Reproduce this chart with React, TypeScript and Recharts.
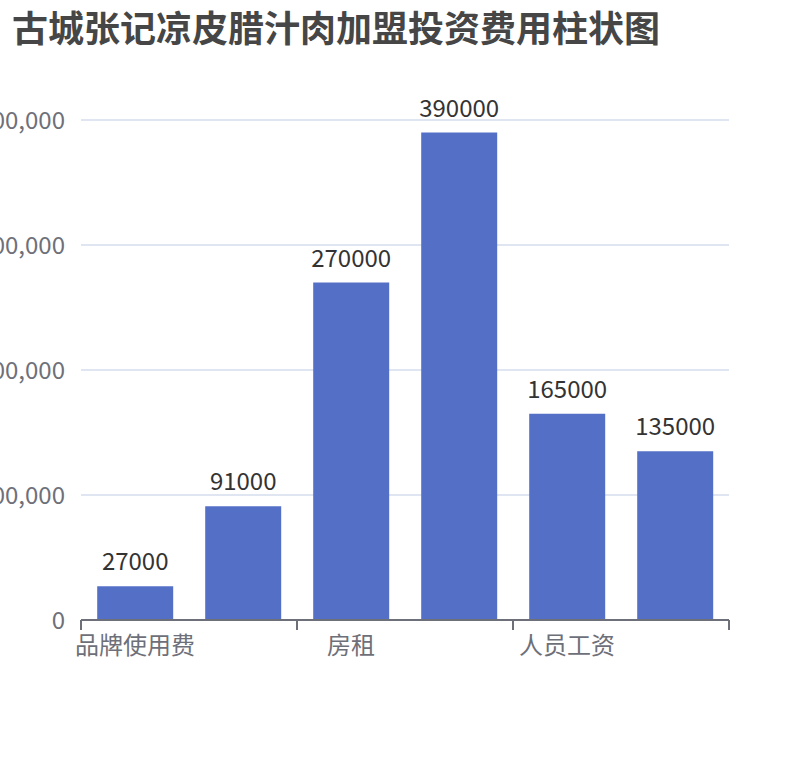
import React from "react";
import { BarChart, Bar, XAxis, YAxis, CartesianGrid, LabelList } from "recharts";

const TITLE = "古城张记凉皮腊汁肉加盟投资费用柱状图";
const categories = ["品牌使用费", "加盟费", "房租", "装修费", "人员工资", "设备费"];
const values = [27000, 91000, 270000, 390000, 165000, 135000];
const yTicks = [0, 100000, 200000, 300000, 400000];
const boundaryTicks = [0, 2, 4, 6];

const data = categories.map((name, i) => ({ name, value: values[i], pos: i + 0.5 }));

const FONT = '"Noto Sans CJK SC", "Noto Sans", sans-serif';
const AXIS_COLOR = "#6E7079";

export default function App() {
  return (
    <div style={{ position: "absolute", left: 0, top: 0, width: 810, height: 760, background: "#fff", fontFamily: FONT }}>
      <div
        style={{
          position: "absolute",
          left: 12,
          top: 8,
          fontSize: 36,
          lineHeight: "36px",
          fontWeight: 700,
          color: "#464646",
          whiteSpace: "nowrap",
        }}
      >
        {TITLE}
      </div>
      <BarChart
        width={810}
        height={760}
        data={data}
        margin={{ top: 120, right: 81, bottom: 83, left: 0 }}
        barCategoryGap="15%"
        style={{ position: "absolute", left: 0, top: 0 }}
      >
        <CartesianGrid vertical={false} stroke="#E0E6F1" strokeWidth={2} xAxisId="b" />
        <XAxis
          xAxisId="a"
          type="number"
          dataKey="pos"
          domain={[0, 6]}
          ticks={boundaryTicks}
          tickFormatter={() => ""}
          tickSize={10}
          height={17}
          axisLine={{ stroke: AXIS_COLOR, strokeWidth: 2 }}
          tickLine={{ stroke: AXIS_COLOR, strokeWidth: 2 }}
        />
        <XAxis
          dataKey="name"
          xAxisId="b"
          interval={1}
          tickLine={false}
          axisLine={false}
          height={40}
          tickSize={0}
          tickMargin={0}
          tick={{ fill: AXIS_COLOR, fontSize: 24, fontFamily: FONT }}
        />
        <YAxis
          width={81}
          domain={[0, 400000]}
          ticks={yTicks}
          axisLine={false}
          tickLine={false}
          tickSize={6}
          tickMargin={10}
          tickFormatter={(v: number) => v.toLocaleString("en-US")}
          tick={{ fill: AXIS_COLOR, fontSize: 24, fontFamily: FONT }}
        />
        <Bar dataKey="value" xAxisId="b" fill="#5470C6" isAnimationActive={false}>
          <LabelList
            dataKey="value"
            position="top"
            offset={16}
            fill="#333333"
            fontSize={24}
            fontFamily={FONT}
          />
        </Bar>
      </BarChart>
    </div>
  );
}
